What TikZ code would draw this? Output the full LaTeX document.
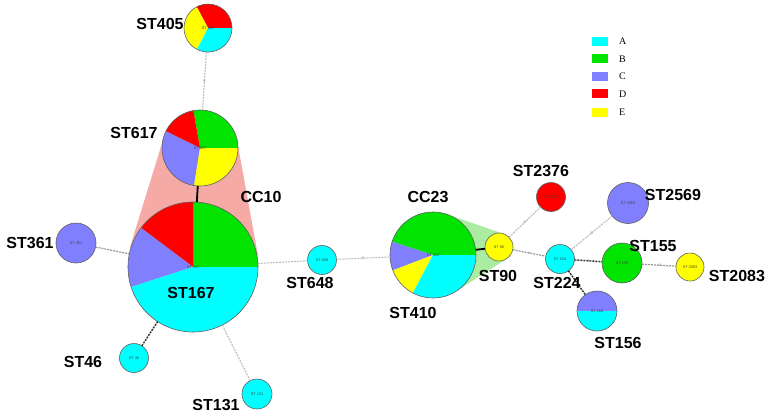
\documentclass[tikz,border=0pt]{standalone}
\usepackage{fontspec}
\setmainfont{Liberation Serif}
\newfontfamily\lsans{Liberation Sans}
\definecolor{cA}{RGB}{0,255,255}
\definecolor{cB}{RGB}{0,228,0}
\definecolor{cC}{RGB}{128,128,255}
\definecolor{cD}{RGB}{255,0,0}
\definecolor{cE}{RGB}{255,255,0}
\definecolor{outl}{RGB}{95,95,95}
\definecolor{hullpink}{RGB}{245,170,165}
\definecolor{hullgreen}{RGB}{170,236,160}
\newcommand\pieslice[5]{\fill[#5] (#1) -- ++(#3:#2pt) arc[start angle=#3,end angle=#4,radius=#2pt] -- cycle;}
\begin{document}
\begin{tikzpicture}[x=1pt,y=-1pt,
  stnode/.style={circle,draw=outl,line width=0.6pt,inner sep=0pt,outer sep=0pt,
     font=\lsans\fontsize{3.8}{4}\selectfont,text=black!75},
  stlabel/.style={font=\lsans\bfseries\fontsize{16}{18}\selectfont,inner sep=0pt},
  lightedge/.style={draw=gray!55,dash pattern=on 2pt off 1pt,line width=1pt},
  midedge/.style={draw=gray!80,dash pattern=on 2pt off 1pt,line width=1.2pt},
  darkedge/.style={draw=black!80,dash pattern=on 2pt off 1pt,line width=1.4pt},
  solidedge/.style={draw=black,line width=1.8pt},
  edgelab/.style={font=\lsans\fontsize{4}{4}\selectfont,text=gray!80,inner sep=0pt},
  legbox/.style={minimum width=16pt,minimum height=9pt,inner sep=0pt},
  legtext/.style={font=\fontsize{10}{11}\selectfont,anchor=west,inner sep=0pt}]
\useasboundingbox[fill=white] (0,0) rectangle (772,416);

% hulls
\fill[hullpink] (237.4,142.2) -- (257.9,255.2) -- (129.9,247.6) -- (163.7,137.8) -- cycle;
\fill[hullgreen] (446.9,214.3) -- (503.5,233.8) -- (506.6,258.8) -- (456.3,291.2) -- cycle;

% centres
\coordinate (c405) at (208,28);
\coordinate (c617) at (200,148);
\coordinate (c167) at (193,267);
\coordinate (c410) at (433,255);
\coordinate (c156) at (597,311);

% pies
\pieslice{c405}{24}{0}{118}{cD}
\pieslice{c405}{24}{118}{243}{cE}
\pieslice{c405}{24}{243}{360}{cA}

\pieslice{c617}{38}{0}{100}{cB}
\pieslice{c617}{38}{100}{154}{cD}
\pieslice{c617}{38}{154}{261}{cC}
\pieslice{c617}{38}{261}{360}{cE}

\pieslice{c167}{65}{0}{90}{cB}
\pieslice{c167}{65}{90}{143}{cD}
\pieslice{c167}{65}{143}{198}{cC}
\pieslice{c167}{65}{198}{360}{cA}

\pieslice{c410}{43}{0}{162}{cB}
\pieslice{c410}{43}{162}{201}{cC}
\pieslice{c410}{43}{201}{242}{cE}
\pieslice{c410}{43}{242}{360}{cA}

\pieslice{c156}{20}{0}{180}{cC}
\pieslice{c156}{20}{180}{360}{cA}

% nodes
\node[stnode,minimum size=48pt] (st405) at (c405) {ST 405};
\node[stnode,minimum size=76pt] (st617) at (c617) {ST 617};
\node[stnode,minimum size=130pt] (st167) at (c167) {ST 167};
\node[stnode,minimum size=86pt] (st410) at (c410) {ST 410};
\node[stnode,minimum size=40pt] (st156) at (c156) {ST 156};
\node[stnode,minimum size=40pt,fill=cC] (st361) at (76,243) {ST 361};
\node[stnode,minimum size=29pt,fill=cA] (st46) at (134,358) {ST 46};
\node[stnode,minimum size=30pt,fill=cA] (st131) at (257,394) {ST 131};
\node[stnode,minimum size=29pt,fill=cA] (st648) at (322,260) {ST 648};
\node[stnode,minimum size=28pt,fill=cE] (st90) at (499,247) {ST 90};
\node[stnode,minimum size=29pt,fill=cD] (st2376) at (551,197) {ST 2376};
\node[stnode,minimum size=41pt,fill=cC] (st2569) at (628,203) {ST 2659};
\node[stnode,minimum size=29pt,fill=cA] (st224) at (560,259) {ST 224};
\node[stnode,minimum size=40pt,fill=cB] (st155) at (622,263) {ST 155};
\node[stnode,minimum size=28pt,fill=cE] (st2083) at (690,267) {ST 2083};

% edges
\draw[lightedge] (st405) -- node[edgelab]{6} (st617);
\draw[solidedge] (st617) -- (st167);
\draw[midedge] (st361) -- (st167);
\draw[darkedge] (st46) -- (st167);
\draw[lightedge] (st131) -- (st167);
\draw[lightedge] (st167) -- (st648);
\draw[lightedge] (st648) -- node[edgelab]{6} (st410);
\draw[solidedge] (st410) -- (st90);
\draw[lightedge] (st90) -- node[edgelab]{6} (st2376);
\draw[midedge] (st90) -- node[edgelab]{4} (st224);
\draw[lightedge] (st224) -- node[edgelab]{6} (st2569);
\draw[darkedge] (st224) -- node[edgelab]{3} (st155);
\draw[midedge] (st155) -- node[edgelab]{4} (st2083);
\draw[darkedge] (st224) -- (st156);

% labels
\node[stlabel] (l405) at (160,24) {ST405};
\node[stlabel] (l617) at (134,133) {ST617};
\node[stlabel] (lcc10) at (261,197) {CC10};
\node[stlabel] (l361) at (30,243) {ST361};
\node[stlabel] (l167) at (191,293) {ST167};
\node[stlabel] (l648) at (310,283) {ST648};
\node[stlabel] (l46) at (83,362) {ST46};
\node[stlabel] (l131) at (216,405) {ST131};
\node[stlabel] (lcc23) at (428,197) {CC23};
\node[stlabel] (l90) at (498,276) {ST90};
\node[stlabel] (l410) at (413,313) {ST410};
\node[stlabel] (l2376) at (541,171) {ST2376};
\node[stlabel] (l2569) at (673,195) {ST2569};
\node[stlabel] (l155) at (653,246) {ST155};
\node[stlabel] (l224) at (557,283) {ST224};
\node[stlabel] (l2083) at (737,276) {ST2083};
\node[stlabel] (l156) at (618,343) {ST156};

% legend
\node[legbox,fill=cA] (ka) at (600,41.2) {};
\node[legbox,fill=cB] (kb) at (600,58.8) {};
\node[legbox,fill=cC] (kc) at (600,76.6) {};
\node[legbox,fill=cD] (kd) at (600,93.8) {};
\node[legbox,fill=cE] (ke) at (600,112) {};
\node[legtext] (ta) at (619,41.2) {A};
\node[legtext] (tb) at (619,58.8) {B};
\node[legtext] (tc) at (619,76.6) {C};
\node[legtext] (td) at (619,93.8) {D};
\node[legtext] (te) at (619,112) {E};
\end{tikzpicture}
\end{document}
